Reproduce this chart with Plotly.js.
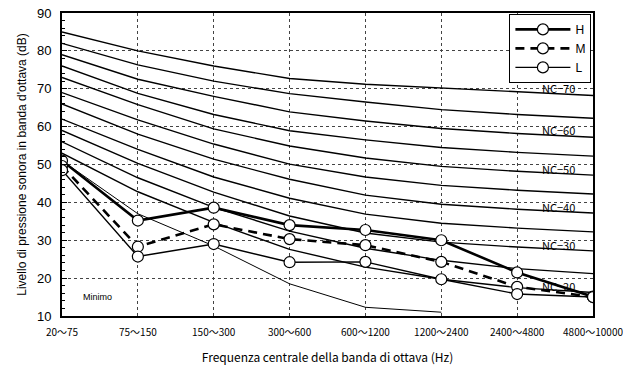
<!DOCTYPE html>
<html>
<head>
<meta charset="utf-8">
<script src="https://cdn.plot.ly/plotly-3.0.1.min.js"></script>
<style>html,body{margin:0;padding:0;background:#fff;}#chart{width:623px;height:374px;}</style>
</head>
<body>
<div id="chart"></div>
<script>
const categories = ['20～75','75～150','150～300','300～600','600～1200','1200～2400','2400～4800','4800～10000'];

const nc20 = [53, 42.8, 34.7, 27.6, 22.9, 19.7, 17.5, 16.2];
const nc25 = [56, 46.5, 38.7, 32.4, 27.9, 24.7, 22.5, 21.2];
const nc30 = [59, 50.3, 42.7, 36.4, 31.9, 29.5, 28.2, 27.2];
const nc35 = [62, 54.0, 46.7, 41.1, 36.9, 34.5, 33.2, 32.2];
const nc40 = [66, 58.0, 51.4, 46.1, 41.9, 39.5, 38.2, 37.2];
const nc45 = [69, 61.8, 55.4, 50.1, 46.7, 44.5, 43.2, 42.2];
const nc50 = [73, 65.8, 59.4, 54.9, 51.7, 49.5, 48.2, 47.2];
const nc55 = [76, 68.8, 63.2, 58.9, 56.5, 54.5, 53.2, 52.2];
const nc60 = [79, 72.5, 68.0, 63.9, 61.5, 59.5, 58.2, 57.2];
const nc65 = [82, 76.3, 72.0, 68.7, 66.5, 64.5, 63.2, 62.2];
const nc70 = [85, 80.0, 76.0, 72.7, 71.2, 70.2, 69.2, 68.2];
const minimo = [51, 37, 28.5, 18.5, 12.3, 11, null, null];

const seriesH = [51, 35.2, 38.6, 34.0, 32.7, 30.0, 21.5, 15.1];
const seriesM = [49.6, 28.3, 34.2, 30.3, 28.7, 24.3, 17.7, 15.0];
const seriesL = [48.5, 25.7, 29.0, 24.2, 24.3, 19.7, 15.8, 15.0];

const ncLabels = ['NC−70','NC−60','NC−50','NC−40','NC−30','NC−20'];
const ncLabelY = [70.3, 59.0, 48.8, 38.8, 28.8, 17.8];
const ncLabelX = 6.54;

const ncCurves = [nc20, nc25, nc30, nc35, nc40, nc45, nc50, nc55, nc60, nc65, nc70];

const traces = [];
ncCurves.forEach(c => traces.push({
  x: categories, y: c, type: 'scatter', mode: 'lines',
  line: {color: '#000', width: 1.4}, showlegend: false, hoverinfo: 'skip'
}));
traces.push({x: categories, y: minimo, type: 'scatter', mode: 'lines',
  line: {color: '#000', width: 1}, showlegend: false, hoverinfo: 'skip'});

const mk = {symbol: 'circle', size: 11, color: '#fff', line: {color: '#000', width: 1.2}};
traces.push({x: categories, y: seriesH, name: 'H', type: 'scatter', mode: 'lines+markers',
  line: {color: '#000', width: 2.6}, marker: mk});
traces.push({x: categories, y: seriesM, name: 'M', type: 'scatter', mode: 'lines+markers',
  line: {color: '#000', width: 2.6, dash: '9px,6px'}, marker: mk});
traces.push({x: categories, y: seriesL, name: 'L', type: 'scatter', mode: 'lines+markers',
  line: {color: '#000', width: 1.4}, marker: mk});

const annotations = ncLabels.map((t, i) => ({
  x: ncLabelX, y: ncLabelY[i], xref: 'x', yref: 'y', text: t, showarrow: false,
  font: {family: 'Noto Sans CJK JP, sans-serif', size: 11, color: '#000'}
}));
annotations.push({x: 0.47, y: 15, xref: 'x', yref: 'y', text: 'Minimo', showarrow: false,
  font: {family: 'Liberation Sans, Arial, sans-serif', size: 9, color: '#000'}});

const layout = {
  width: 623, height: 374,
  margin: {l: 62, r: 30, t: 13, b: 58},
  paper_bgcolor: '#fff', plot_bgcolor: '#fff',
  showlegend: true,
  legend: {x: 0.997, xanchor: 'right', y: 0.997, yanchor: 'top',
    bgcolor: '#fff', bordercolor: '#000', borderwidth: 1,
    font: {family: 'Liberation Sans, Arial, sans-serif', size: 12, color: '#000'},
    itemwidth: 55, tracegroupgap: 0},
  xaxis: {
    type: 'category', range: [0, 7], showline: true, mirror: true,
    linecolor: '#000', linewidth: 2, showgrid: true, gridcolor: '#444', griddash: 'dot', gridwidth: 1,
    ticks: '', zeroline: false, ticklabelstandoff: 6,
    tickfont: {family: 'Noto Sans CJK JP, sans-serif', size: 10, color: '#000'},
    title: {text: 'Frequenza centrale della banda di ottava (Hz)', standoff: 16,
      font: {family: 'Noto Sans CJK JP, sans-serif', size: 12, color: '#000'}}
  },
  yaxis: {
    range: [10, 90], dtick: 10, showline: true, mirror: true,
    linecolor: '#000', linewidth: 2, showgrid: true, gridcolor: '#444', griddash: 'dot', gridwidth: 1,
    ticks: 'inside', ticklen: 5, tickcolor: '#000', zeroline: false,
    minor: {dtick: 2, ticks: 'inside', ticklen: 3, tickcolor: '#000', showgrid: false},
    ticklabelstandoff: 6,
    tickfont: {family: 'Liberation Sans, Arial, sans-serif', size: 13, color: '#000'},
    title: {text: "Livello di pressione sonora in banda d'ottava (dB)", standoff: 8,
      font: {family: 'Liberation Sans, Arial, sans-serif', size: 12, color: '#000'}}
  },
  annotations: annotations
};

Plotly.newPlot('chart', traces, layout, {staticPlot: true, displayModeBar: false});
</script>
</body>
</html>
